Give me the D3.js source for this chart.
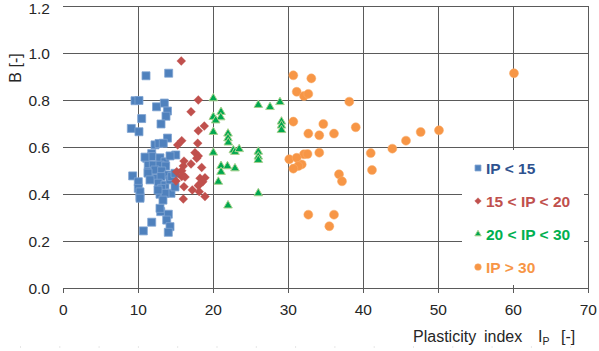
<!DOCTYPE html>
<html>
<head>
<meta charset="utf-8">
<script src="https://cdn.jsdelivr.net/npm/d3@7"></script>
<style>
  body { margin: 0; background: #fff; }
  text { font-family: "Liberation Sans", Arial, sans-serif; }
</style>
</head>
<body>
<div id="chart"></div>
<script>
// Values: [plasticity index, B]
const ipBelow15 = [
  [11.03,0.903],[14.05,0.914],[9.56,0.797],[10.09,0.798],[12.43,0.771],[13.47,0.787],
  [13.89,0.753],[13.69,0.731],[10.45,0.721],[13.03,0.698],[9.07,0.679],[10.09,0.665],
  [13.89,0.638],[12.23,0.609],[12.76,0.615],[13.33,0.616],[11.79,0.572],[14.99,0.566],
  [11.12,0.552],[11.79,0.559],[12.89,0.554],[13.56,0.537],[11.33,0.523],[12.0,0.523],
  [12.89,0.523],[13.65,0.519],[11.33,0.495],[12.23,0.502],[13.12,0.498],[14.0,0.481],
  [9.25,0.477],[12.36,0.467],[13.03,0.474],[10.0,0.452],[12.67,0.446],[13.56,0.438],
  [10.0,0.424],[13.12,0.424],[14.36,0.403],[10.23,0.389],[12.89,0.399],[13.56,0.403],
  [12.99,0.325],[14.0,0.314],[13.79,0.289],[14.23,0.261],[11.79,0.280],[10.67,0.243],
  [14.0,0.237],[10.89,0.557],[14.23,0.562],[11.29,0.489],[14.23,0.46],[10.23,0.409],
  [13.29,0.374],[14.89,0.43],[12.63,0.417],[11.56,0.46],[14.45,0.474],[14.89,0.488],
  [12.89,0.339],[10.23,0.382]
];
const ip15to20 = [
  [15.73,0.966],[18.0,0.80],[17.03,0.750],[18.0,0.669],[18.8,0.689],[15.79,0.627],
  [15.25,0.609],[17.92,0.616],[17.56,0.576],[18.0,0.562],[17.79,0.552],[16.09,0.540],
  [17.03,0.528],[16.0,0.519],[18.45,0.513],[15.12,0.495],[15.79,0.499],[15.79,0.474],
  [15.03,0.455],[18.23,0.467],[18.89,0.469],[18.59,0.452],[18.23,0.443],[16.09,0.431],
  [17.2,0.417],[18.13,0.410],[18.89,0.389],[16.0,0.379],[18.0,0.436],[15.87,0.481],
  [16.23,0.472]
];
const ip20to30 = [
  [20.0,0.807],[26.0,0.779],[27.56,0.770],[28.89,0.791],[21.03,0.749],[20.99,0.726],
  [20.0,0.728],[20.32,0.713],[20.0,0.664],[21.96,0.657],[21.96,0.637],[22.0,0.619],
  [22.67,0.586],[22.89,0.579],[23.45,0.591],[20.0,0.576],[26.0,0.580],[26.0,0.559],
  [26.0,0.545],[21.03,0.519],[21.89,0.518],[22.89,0.509],[21.03,0.494],[20.67,0.452],
  [26.0,0.403],[21.96,0.351],[29.09,0.708],[29.09,0.691],[29.09,0.672]
];
const ipAbove30 = [
  [30.67,0.905],[33.07,0.892],[31.12,0.835],[32.09,0.817],[32.67,0.826],[38.13,0.793],
  [30.67,0.708],[34.67,0.698],[38.99,0.684],[32.67,0.657],[34.13,0.650],[36.09,0.657],
  [47.65,0.664],[50.09,0.671],[45.69,0.627],[43.87,0.593],[32.09,0.569],[32.56,0.570],
  [34.13,0.576],[40.99,0.574],[30.13,0.548],[31.12,0.554],[31.79,0.526],[31.33,0.519],
  [30.67,0.508],[41.16,0.502],[36.76,0.484],[37.16,0.454],[32.67,0.312],[36.09,0.312],
  [35.47,0.263],[60.09,0.914]
];

const xTicks = [0, 10, 20, 30, 40, 50, 60, 70];
const yTicks = [0, 0.2, 0.4, 0.6, 0.8, 1.0, 1.2];
const legendLabels = ['IP < 15', '15 < IP < 20', '20 < IP < 30', 'IP > 30'];

const width = 599;
const height = 351;

const svg = d3.select('#chart')
  .append('svg')
  .attr('width', width)
  .attr('height', height);

const x = d3.scaleLinear().domain([0, 70]).range([63.3, 588.3]);
const y = d3.scaleLinear().domain([0, 1.2]).range([288, 6]);

// gridlines
const grid = svg.append('g')
  .attr('stroke', '#5a5a5a')
  .attr('stroke-width', 1)
  .attr('shape-rendering', 'crispEdges');

grid.selectAll('.hgrid')
  .data(yTicks)
  .enter()
  .append('line')
  .attr('x1', x(0))
  .attr('x2', x(70))
  .attr('y1', d => y(d))
  .attr('y2', d => y(d));

grid.selectAll('.vgrid')
  .data(xTicks.filter(d => d > 0))
  .enter()
  .append('line')
  .attr('x1', d => x(d))
  .attr('x2', d => x(d))
  .attr('y1', y(1.2))
  .attr('y2', y(0) + 5);

// x tick marks below the axis
grid.selectAll('.xtick')
  .data(xTicks)
  .enter()
  .append('line')
  .attr('x1', d => x(d))
  .attr('x2', d => x(d))
  .attr('y1', y(0))
  .attr('y2', y(0) + 5);

// tick labels
svg.append('g')
  .selectAll('text')
  .data(xTicks)
  .enter()
  .append('text')
  .attr('x', d => x(d))
  .attr('y', y(0) + 27)
  .attr('text-anchor', 'middle')
  .attr('font-size', 15.5)
  .attr('fill', '#262626')
  .text(d => d);

svg.append('g')
  .selectAll('text')
  .data(yTicks)
  .enter()
  .append('text')
  .attr('x', 50)
  .attr('y', d => Math.max(y(d) + 5.5, 13.5))
  .attr('text-anchor', 'end')
  .attr('font-size', 15.5)
  .attr('fill', '#262626')
  .text(d => d.toFixed(1));

// axis titles
svg.append('text')
  .attr('transform', 'translate(21, 68) rotate(-90)')
  .attr('text-anchor', 'middle')
  .attr('font-size', 16)
  .attr('fill', '#262626')
  .text('B [-]');

const xTitle = svg.append('text')
  .attr('y', 342)
  .attr('font-size', 16)
  .attr('fill', '#262626');
xTitle.append('tspan').attr('x', 413).text('Plasticity');
xTitle.append('tspan').attr('x', 484).text('index');
xTitle.append('tspan').attr('x', 538).text('I');
xTitle.append('tspan').attr('dy', 3).attr('font-size', 10.5).text('P');
xTitle.append('tspan').attr('x', 561).attr('dy', -3).text('[-]');

// faint dotted line at the very bottom of the picture
svg.append('line')
  .attr('x1', 20).attr('x2', 590)
  .attr('y1', 347).attr('y2', 347)
  .attr('stroke', '#cfcfcf')
  .attr('stroke-dasharray', '1,38.3');

// series
const series = [
  { data: ipBelow15, symbol: d3.symbolSquare, size: 64, rotate: 0, fill: '#4F81BD', stroke: '#7fa3d2', sw: 0.8 },
  { data: ip15to20, symbol: d3.symbolSquare, size: 40, rotate: 45, fill: '#C0504D', stroke: '#C0504D', sw: 0.3 },
  { data: ip20to30, symbol: d3.symbolTriangle, size: 32, rotate: 0, fill: '#00A84F', stroke: '#A8D08D', sw: 1 },
  { data: ipAbove30, symbol: d3.symbolCircle, size: 64, rotate: 0, fill: '#F79646', stroke: '#F9AE6F', sw: 0.5 }
];

series.forEach(s => {
  svg.append('g')
    .selectAll('path')
    .data(s.data)
    .enter()
    .append('path')
    .attr('d', d3.symbol().type(s.symbol).size(s.size))
    .attr('transform', d => `translate(${x(d[0])},${y(d[1])}) rotate(${s.rotate})`)
    .attr('fill', s.fill)
    .attr('stroke', s.stroke)
    .attr('stroke-width', s.sw);
});

// legend
const legend = svg.append('g');
legend.append('rect')
  .attr('x', 462).attr('y', 150)
  .attr('width', 122).attr('height', 135)
  .attr('fill', '#fff');

const legendColors = ['#2E528F', '#C0504D', '#00B050', '#F79646'];
const legendY = [168, 201, 234, 267];

legendLabels.forEach((label, i) => {
  const s = series[i];
  legend.append('path')
    .attr('d', d3.symbol().type(s.symbol).size(s.size * 0.55))
    .attr('transform', `translate(478,${legendY[i]}) rotate(${s.rotate})`)
    .attr('fill', s.fill)
    .attr('stroke', s.stroke)
    .attr('stroke-width', s.sw);
  legend.append('text')
    .attr('x', 486)
    .attr('y', legendY[i] + 5.5)
    .attr('font-size', 15.5)
    .attr('font-weight', 'bold')
    .attr('fill', legendColors[i])
    .text(label);
});
</script>
</body>
</html>
